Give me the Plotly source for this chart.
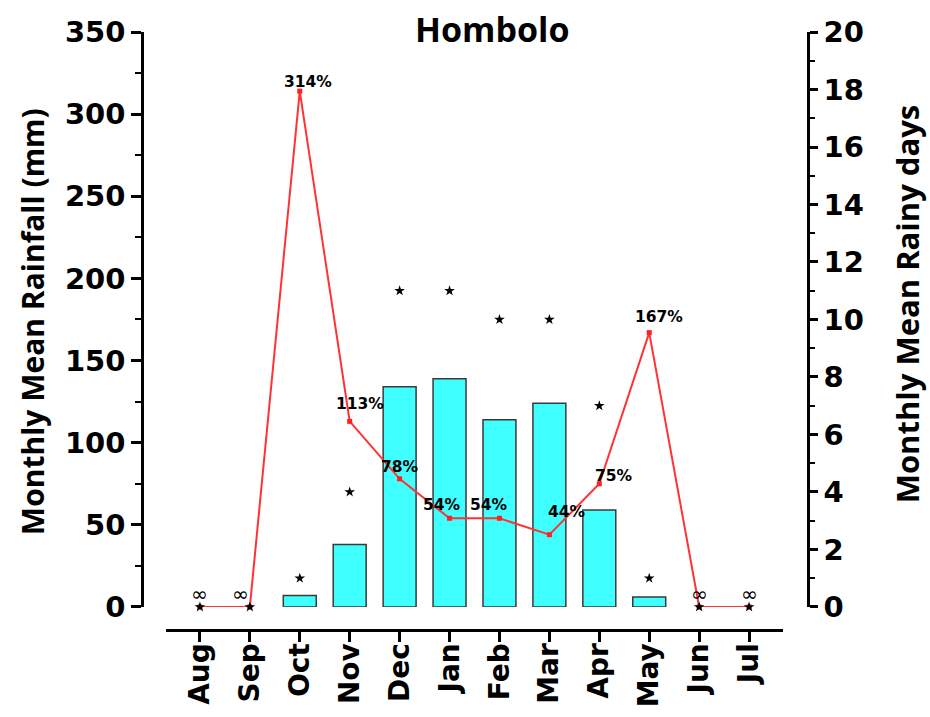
import plotly.graph_objects as go

months = ["Aug", "Sep", "Oct", "Nov", "Dec", "Jan", "Feb", "Mar", "Apr", "May", "Jun", "Jul"]
rainfall_mm = [0, 0, 7, 38, 134, 139, 114, 124, 59, 6, 0, 0]
cv_percent = [0, 0, 314, 113, 78, 54, 54, 44, 75, 167, 0, 0]
cv_labels = ["∞", "∞", "314%", "113%", "78%", "54%", "54%", "44%", "75%", "167%", "∞", "∞"]
rainy_days = [0, 0, 1, 4, 11, 11, 10, 10, 7, 1, 0, 0]

# label offsets (pixels) relative to the CV point
label_dx = [0, -9, 8, 10, 0, -8, -10, 18, 15, 10, 0, 0]
label_dy = [13, 13, 9, 17, 12, 13, 13, 23, 8, 16, 13, 13]

# no outline for empty months
bar_line_widths = [1.5 if v > 0 else 0 for v in rainfall_mm]

fig = go.Figure()

fig.add_trace(go.Bar(
    x=months, y=rainfall_mm, width=0.66,
    marker=dict(color="#40FFFF", line=dict(color="#3a3a3a", width=bar_line_widths)),
    yaxis="y", hoverinfo="skip",
))

fig.add_trace(go.Scatter(
    x=months, y=cv_percent, mode="lines+markers",
    line=dict(color="#FF3333", width=2),
    marker=dict(symbol="square", size=5, color="#FF2020"),
    yaxis="y", cliponaxis=False,
))

fig.add_trace(go.Scatter(
    x=months, y=rainy_days, mode="markers",
    marker=dict(symbol="star", size=8, color="black"),
    yaxis="y2", cliponaxis=False,
))

annotations = []
for m, v, t, dx, dy in zip(months, cv_percent, cv_labels, label_dx, label_dy):
    is_inf = t == "∞"
    annotations.append(dict(
        x=m, y=v, xref="x", yref="y", text=t, showarrow=False,
        xshift=dx, yshift=dy, xanchor="center", yanchor="middle",
        font=dict(family="DejaVu Sans", size=20 if is_inf else 15.5,
                  color="black", weight="normal" if is_inf else "bold"),
    ))

annotations.append(dict(
    x=0.5255, y=1.005, xref="paper", yref="paper", text="Hombolo",
    showarrow=False, xanchor="center", yanchor="middle",
    font=dict(family="Open Sans", size=34, color="black", weight="bold"),
))
annotations.append(dict(
    x=-0.165, y=0.515, xref="paper", yref="paper", text="Monthly Mean Rainfall (mm)",
    showarrow=False, textangle=-90, xanchor="center", yanchor="middle",
    font=dict(family="Open Sans", size=30, color="black", weight="bold"),
))
annotations.append(dict(
    x=1.149, y=0.545, xref="paper", yref="paper", text="Monthly Mean Rainy days",
    showarrow=False, textangle=-90, xanchor="center", yanchor="middle",
    font=dict(family="Open Sans", size=31, color="black", weight="bold"),
))

tickfont = dict(family="DejaVu Sans", size=29, color="black", weight="bold")
xtickfont = dict(family="DejaVu Sans", size=28, color="black", weight="bold")

fig.update_layout(
    width=930, height=717,
    margin=dict(l=142, r=122, t=32, b=87, autoexpand=False),
    plot_bgcolor="white", paper_bgcolor="white",
    showlegend=False,
    annotations=annotations,
    xaxis=dict(
        type="category", categoryorder="array", categoryarray=months,
        range=[-0.68, 11.68], domain=[0.036, 0.9625],
        anchor="free", position=0, automargin=False,
        showline=True, linecolor="black", linewidth=3,
        ticks="outside", ticklen=10, tickwidth=2.5, tickcolor="black",
        tickangle=-90, tickfont=xtickfont, ticklabelstandoff=-10,
        showgrid=False, zeroline=False,
    ),
    yaxis=dict(
        range=[0, 350], domain=[0.0385, 1], anchor="free", position=0,
        automargin=False,
        showline=True, linecolor="black", linewidth=2.5,
        ticks="outside", ticklen=10, tickwidth=2.5, tickcolor="black",
        dtick=50, tick0=0,
        minor=dict(dtick=25, ticks="outside", ticklen=6, tickwidth=2, tickcolor="black"),
        tickfont=tickfont, showgrid=False, zeroline=False,
    ),
    yaxis2=dict(
        range=[0, 20], overlaying="y", side="right", anchor="free", position=1,
        automargin=False,
        showline=True, linecolor="black", linewidth=2.5,
        ticks="outside", ticklen=8, tickwidth=2.5, tickcolor="black",
        dtick=2, tick0=0,
        minor=dict(dtick=1, ticks="outside", ticklen=5, tickwidth=2, tickcolor="black"),
        tickfont=tickfont, showgrid=False, zeroline=False,
    ),
)

fig.write_html("out.html")
